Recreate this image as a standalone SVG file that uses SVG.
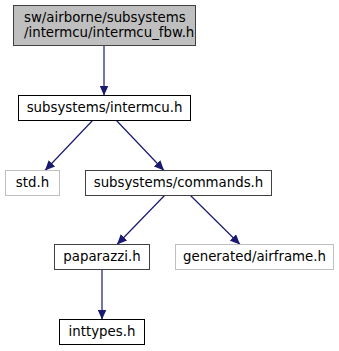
<svg xmlns="http://www.w3.org/2000/svg" width="339" height="351" viewBox="0 0 339 351">
  <style>
    text { font-family: "DejaVu Sans", "Liberation Sans", sans-serif; font-size: 13.33px; fill: #000; }
    .mid { text-anchor: middle; }
    .box { fill: #ffffff; stroke: #000000; stroke-width: 1; }
    .dark { stroke: #404040; }
    .grey { stroke: #bfbfbf; }
    .root { fill: #bfbfbf; stroke: #404040; stroke-width: 1; }
    .edge { stroke: #191970; stroke-width: 1.2; fill: none; marker-end: url(#arrow); }
  </style>
  <defs>
    <marker id="arrow" viewBox="0 0 10 9" refX="10" refY="4.5" markerWidth="10" markerHeight="9" markerUnits="userSpaceOnUse" orient="auto">
      <path d="M0,0 L10,4.5 L0,9 Z" fill="#191970"/>
    </marker>
  </defs>

  <g id="edges">
    <line class="edge" x1="104" y1="46" x2="104" y2="95.5"/>
    <line class="edge" x1="93" y1="120" x2="45" y2="170.5"/>
    <line class="edge" x1="116" y1="120" x2="164" y2="170.5"/>
    <line class="edge" x1="165" y1="195" x2="117" y2="244.5"/>
    <line class="edge" x1="190" y1="195" x2="240" y2="244.5"/>
    <line class="edge" x1="102" y1="270" x2="102" y2="319.5"/>
  </g>

  <g id="node-intermcu_fbw">
    <rect class="root" x="13.5" y="5.5" width="182" height="40"/>
    <text x="24" y="22">sw/airborne/subsystems</text>
    <text x="24" y="37">/intermcu/intermcu_fbw.h</text>
  </g>

  <g id="node-intermcu">
    <rect class="box" x="18.5" y="95.5" width="172" height="25"/>
    <text class="mid" x="104.5" y="112">subsystems/intermcu.h</text>
  </g>

  <g id="node-std">
    <rect class="box grey" x="5.5" y="170.5" width="54" height="25"/>
    <text class="mid" x="32.5" y="187">std.h</text>
  </g>

  <g id="node-commands">
    <rect class="box dark" x="85.5" y="170.5" width="186" height="25"/>
    <text class="mid" x="178.5" y="187">subsystems/commands.h</text>
  </g>

  <g id="node-paparazzi">
    <rect class="box dark" x="54.5" y="244.5" width="95" height="25"/>
    <text class="mid" x="102" y="261">paparazzi.h</text>
  </g>

  <g id="node-airframe">
    <rect class="box grey" x="175.5" y="244.5" width="158" height="25"/>
    <text class="mid" x="254.5" y="261">generated/airframe.h</text>
  </g>

  <g id="node-inttypes">
    <rect class="box" x="59.5" y="319.5" width="85" height="25"/>
    <text class="mid" x="102" y="336">inttypes.h</text>
  </g>
</svg>
